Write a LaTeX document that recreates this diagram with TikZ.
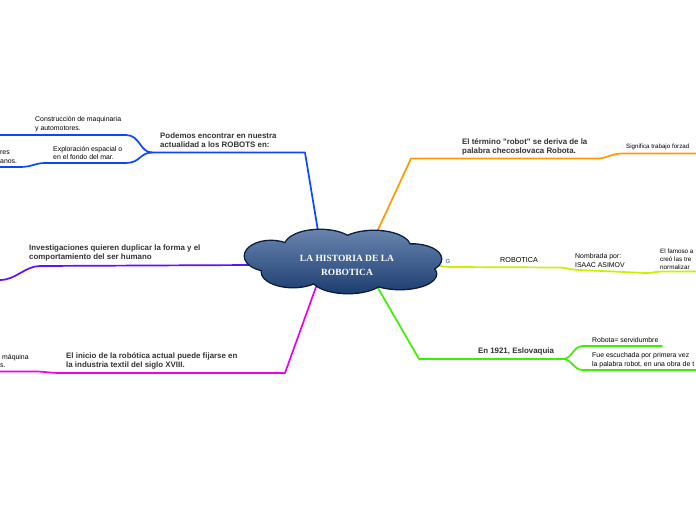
\documentclass[tikz,border=0pt]{standalone}
\usepackage{fontspec}
\setmainfont{Liberation Sans}
\newfontfamily\cloudfont{Liberation Serif}
\definecolor{txt}{HTML}{333333}
\definecolor{cblue}{HTML}{0A47FF}
\definecolor{cpurple}{HTML}{6010FF}
\definecolor{cmag}{HTML}{EE00EE}
\definecolor{corange}{HTML}{FF9900}
\definecolor{cyellow}{HTML}{CCF000}
\definecolor{cgreen}{HTML}{3CF000}
\definecolor{cloudtop}{HTML}{6A86B0}
\definecolor{cloudbot}{HTML}{1A3B6E}
\definecolor{cloudline}{HTML}{0B1D3D}
\definecolor{gblue}{HTML}{4285F4}
\tikzset{
  branch/.style={line width=1.7pt, line join=round, line cap=round},
  boldlbl/.style={anchor=west, inner sep=0pt, align=left, text=txt, font=\fontsize{7.9}{9}\selectfont\bfseries},
  lbl/.style={anchor=west, inner sep=0pt, align=left, text=black, font=\fontsize{6.9}{8.6}\selectfont},
}
\begin{document}
\begin{tikzpicture}[x=1pt,y=-1pt]
\useasboundingbox (0,0) rectangle (696,520);
\fill[white] (0,0) rectangle (696,520);

% connector anchor coordinates
\coordinate (cB) at (318,231);
\coordinate (b1) at (305,152.5);
\coordinate (b2) at (152,152.5);
\coordinate (bu) at (0,135);
\coordinate (bl) at (0,167);
\coordinate (cP) at (252,265);
\coordinate (pe) at (0,280);
\coordinate (cM) at (316,287);
\coordinate (m1) at (285,373);
\coordinate (me) at (0,371.5);
\coordinate (cO) at (377,232);
\coordinate (o1) at (411,158.5);
\coordinate (oe) at (696,153.5);
\coordinate (cY) at (437,265);
\coordinate (ye) at (696,271.5);
\coordinate (cG) at (378,288);
\coordinate (g1) at (419,359);
\coordinate (g2) at (563,359);
\coordinate (gu) at (662,346);
\coordinate (gl) at (696,370);

% blue
\draw[branch, cblue] (cB) -- (b1) -- (b2);
\draw[branch, cblue] (b2) .. controls (140,152.5) and (140,135) .. (126,135) -- (bu);
\draw[branch, cblue] (b2) .. controls (140,152.5) and (140,163) .. (126,163) -- (45,163) .. controls (35,163) and (32,167) .. (20,167) -- (bl);
% purple
\draw[branch, cpurple] (cP) -- (40,266) .. controls (25,266) and (16,280) .. (pe);
% magenta
\draw[branch, cmag] (cM) -- (m1) -- (60,373) .. controls (50,373) and (45,371.5) .. (35,371.5) -- (me);
% orange
\draw[branch, corange] (cO) -- (o1) -- (598,158.5) .. controls (606,158.5) and (612,153.5) .. (622,153.5) -- (oe);
% yellow
\draw[branch, cyellow] (cY) .. controls (445,267) .. (455,267) -- (560,267.5) .. controls (568,268) and (572,270) .. (580,270) -- (645,273) .. controls (652,273.3) and (655,271.5) .. (662,271.5) -- (ye);
% green
\draw[branch, cgreen] (cG) -- (g1) -- (g2);
\draw[branch, cgreen] (g2) .. controls (572,359) and (573,346) .. (583,346) -- (gu);
\draw[branch, cgreen] (g2) .. controls (572,359) and (573,370) .. (583,370) -- (gl);

% cloud
\def\cloudpath{(271,256) ellipse [x radius=26,y radius=15]
 (320,246) ellipse [x radius=35,y radius=16]
 (374,247) ellipse [x radius=36,y radius=16]
 (412,259) ellipse [x radius=29,y radius=14.5]
 (400,274) ellipse [x radius=36,y radius=15]
 (348,277) ellipse [x radius=37,y radius=16]
 (293,272) ellipse [x radius=31,y radius=15]
 (343,262) ellipse [x radius=58,y radius=20]}
\draw[line width=2.8pt, cloudline] \cloudpath;
\begin{scope}
\clip \cloudpath;
\shade[top color=cloudtop, bottom color=cloudbot] (240,228) rectangle (445,296);
\end{scope}
\node[align=center, text=white, inner sep=0pt, font=\cloudfont\fontsize{9.5}{14}\selectfont\bfseries] (root) at (347,265) {LA HISTORIA DE LA\\ROBOTICA};

% blue texts
\node[boldlbl] (tb) at (160,140.5) {Podemos encontrar en nuestra\\actualidad a los ROBOTS en:};
\node[lbl] (tb1) at (35,124) {Construcción de maquinaria\\y automotores.};
\node[lbl] (tb2) at (53,153) {Exploración espacial o\\en el fondo del mar.};
\node[lbl] (tb3) at (0,157) {res\\anos.};
% purple
\node[boldlbl] (tp) at (29,252.5) {Investigaciones quieren duplicar la forma y el\\comportamiento del ser humano};
% magenta
\node[boldlbl] (tm) at (66,360.5) {El inicio de la robótica actual puede fijarse en\\la industria textil del siglo XVIII.};
\node[lbl] (tm1) at (0,361) {\hspace{2pt}máquina\\s.};
% orange
\node[boldlbl] (to) at (462,146.5) {El término \textquotedbl robot\textquotedbl{} se deriva de la\\palabra checoslovaca Robota.};
\node[lbl, font=\fontsize{6.2}{8}\selectfont] (to1) at (626,147) {Significa trabajo forzad};
% yellow
\node[text=gblue, inner sep=0pt, font=\fontsize{6}{6}\selectfont\bfseries] (gicon) at (448,261) {G};
\node[lbl, anchor=center, font=\fontsize{7.2}{8.6}\selectfont] (ty) at (519,260) {ROBOTICA};
\node[lbl] (ty1) at (575,260.5) {Nombrada por:\\ISAAC ASIMOV};
\node[lbl, font=\fontsize{6.3}{8.2}\selectfont] (ty2) at (660,259) {El famoso a\\creó las tre\\normalizar};
% green
\node[boldlbl, anchor=center] (tg) at (516,351) {En 1921, Eslovaquia};
\node[lbl] (tg1) at (592,340) {Robota= servidumbre};
\node[lbl] (tg2) at (592,360.5) {Fue escuchada por primera vez\\la palabra robot, en una obra de t};
\end{tikzpicture}
\end{document}
